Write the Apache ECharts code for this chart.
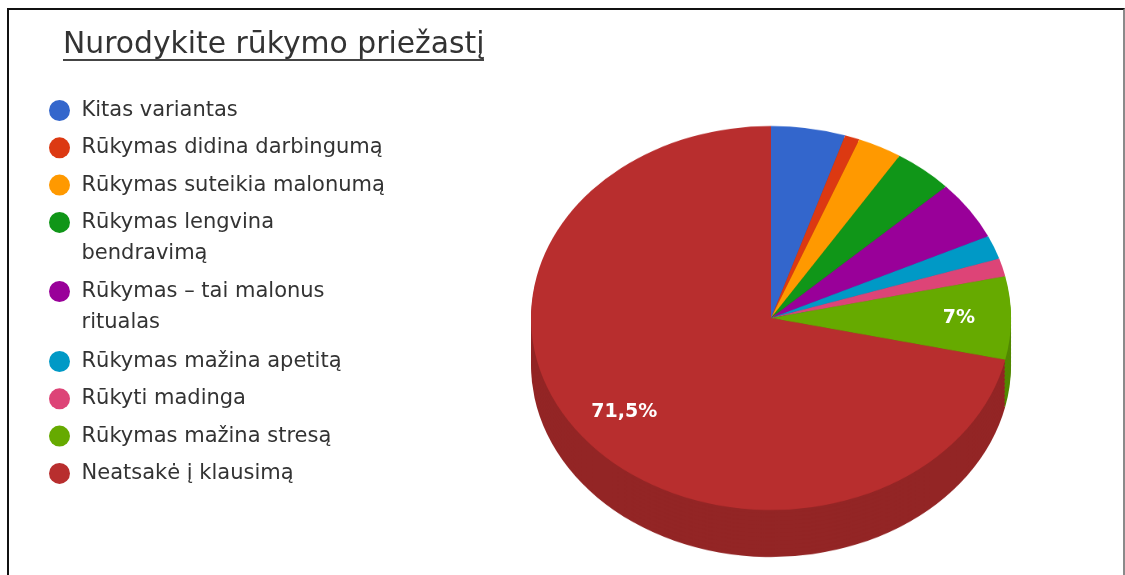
<!DOCTYPE html>
<html><head><meta charset="utf-8">
<script src="https://cdn.jsdelivr.net/npm/echarts@6/dist/echarts.min.js"></script>
<style>
html,body{margin:0;padding:0;background:#fff;}
#wrap{position:relative;width:1125px;height:575px;overflow:hidden;background:#fff;}
#pie{position:absolute;left:0;top:0;width:1125px;height:719px;transform:scaleY(0.8);transform-origin:0 0;}
#main{position:absolute;left:0;top:0;width:1125px;height:575px;}
#frame{position:absolute;left:7px;top:8px;width:1118px;height:600px;border-top:2px solid #111;border-left:2px solid #111;border-right:2px solid #8a8a8a;box-sizing:border-box;pointer-events:none;}
</style></head><body>
<div id="wrap"><div id="pie"></div><div id="main"></div><div id="frame"></div></div>
<script>
// ---- data ----
const chartTitle = 'Nurodykite rūkymo priežastį';
const categories = [
  'Kitas variantas',
  'Rūkymas didina darbingumą',
  'Rūkymas suteikia malonumą',
  'Rūkymas lengvina bendravimą',
  'Rūkymas – tai malonus ritualas',
  'Rūkymas mažina apetitą',
  'Rūkyti madinga',
  'Rūkymas mažina stresą',
  'Neatsakė į klausimą'
];
const values = [5, 1, 3, 4, 5, 2, 1.5, 7, 71.5];
const colors = ['#3366cc', '#dc3912', '#ff9900', '#109618', '#990099', '#0099c6', '#dd4477', '#66aa00', '#b82e2e'];

// ---- styling / geometry ----
const FONT = '"DejaVu Sans", "Liberation Sans", Arial, sans-serif';
const PIE_CX = 771, PIE_CY = 318, R = 240, SQUASH = 0.8, DEPTH = 47;
const LEGEND_FS = 21, LEGEND_LH = 31, WRAP = 315, LABEL_MIN = 6;
// legend blocks: [first index, last index, top]
const LEGEND_BLOCKS = [[0, 3, 95], [4, 4, 276], [5, 8, 346]];

function shade(hex, f) {
  const n = parseInt(hex.slice(1), 16);
  const r = Math.round(((n >> 16) & 255) * f), g = Math.round(((n >> 8) & 255) * f), b = Math.round((n & 255) * f);
  return '#' + ((1 << 24) + (r << 16) + (g << 8) + b).toString(16).slice(1);
}
const sideColors = colors.map(c => shade(c, 0.8));

function pieData(cols) {
  return categories.map((n, i) => ({ name: n, value: values[i], itemStyle: { color: cols[i] } }));
}

// ---- chart B: the tilted (3D-looking) pie ----
const pieChart = echarts.init(document.getElementById('pie'), null, { renderer: 'canvas' });
function makePie(offset, cols) {
  return {
    type: 'pie', silent: true, animation: false,
    center: [PIE_CX, PIE_CY / SQUASH + offset], radius: R,
    startAngle: 90, clockwise: true, padAngle: 0,
    itemStyle: { borderWidth: 0, borderRadius: 0 },
    label: { show: false }, labelLine: { show: false },
    emphasis: { disabled: true },
    data: pieData(cols)
  };
}
const pieSeries = [];
for (let d = DEPTH; d > 0; d -= 4) pieSeries.push(makePie(d / SQUASH, sideColors));
pieSeries.push(makePie(0, colors));
pieChart.setOption({ backgroundColor: 'transparent', animation: false, series: pieSeries });

// ---- legend text wrapping (greedy, by measured width) ----
const ctx = document.createElement('canvas').getContext('2d');
ctx.font = LEGEND_FS + 'px ' + FONT;
function wrapName(name) {
  const words = name.split(' ');
  const lines = [];
  let cur = '';
  words.forEach(w => {
    const t = cur ? cur + ' ' + w : w;
    if (cur && ctx.measureText(t).width > WRAP) { lines.push(cur); cur = w; }
    else cur = t;
  });
  lines.push(cur);
  return lines;
}
const legendItems = categories.map(n => {
  const k = wrapName(n).length;
  return k > 1 ? { name: n, textStyle: { padding: [0, 0, -LEGEND_LH * (k - 1), 0] } } : n;
});
const legendText = {
  fontFamily: FONT, fontSize: LEGEND_FS, color: '#333', lineHeight: LEGEND_LH
};
const legends = LEGEND_BLOCKS.map(([a, b, top]) => ({
  type: 'plain', orient: 'vertical', left: 49, top: top, padding: 0,
  itemWidth: 34, itemHeight: 21, itemGap: 6.3, icon: 'circle',
  selectedMode: false,
  itemStyle: { opacity: 1 },
  data: legendItems.slice(a, b + 1),
  formatter: name => {
    const lines = wrapName(name);
    return lines.length > 1 ? lines.map(l => '{t|' + l + '}').join('\n') : name;
  },
  textStyle: Object.assign({ rich: { t: legendText } }, legendText)
}));

const main = echarts.init(document.getElementById('main'), null, { renderer: 'canvas' });
main.setOption({
  backgroundColor: 'transparent',
  animation: false,
  title: {
    text: chartTitle, left: 63, top: 30, padding: 0,
    textStyle: { fontFamily: FONT, fontSize: 29.8, fontWeight: 'normal', color: '#333' }
  },
  graphic: [{
    type: 'line', shape: { x1: 63, y1: 60, x2: 484, y2: 60 },
    style: { stroke: '#444', lineWidth: 2 }, silent: true
  }],
  legend: legends,
  series: [{
    type: 'pie', silent: true,
    center: [PIE_CX, PIE_CY], radius: [0, 370],
    startAngle: 90, clockwise: true,
    color: colors,
    itemStyle: { opacity: 0 },
    emphasis: { disabled: true },
    labelLine: { show: false },
    label: {
      show: true, position: 'inside', opacity: 1,
      fontFamily: FONT, fontSize: 19, fontWeight: 'bold',
      color: '#ffffff',
      formatter: p => p.value >= LABEL_MIN ? String(p.value).replace('.', ',') + '%' : ''
    },
    labelLayout: function (p) {
      const c = p.labelRect.y + p.labelRect.height / 2;
      return { dy: -(1 - SQUASH) * (c - PIE_CY) };
    },
    data: categories.map((n, i) => ({ name: n, value: values[i] }))
  }]
});
</script>
</body></html>
